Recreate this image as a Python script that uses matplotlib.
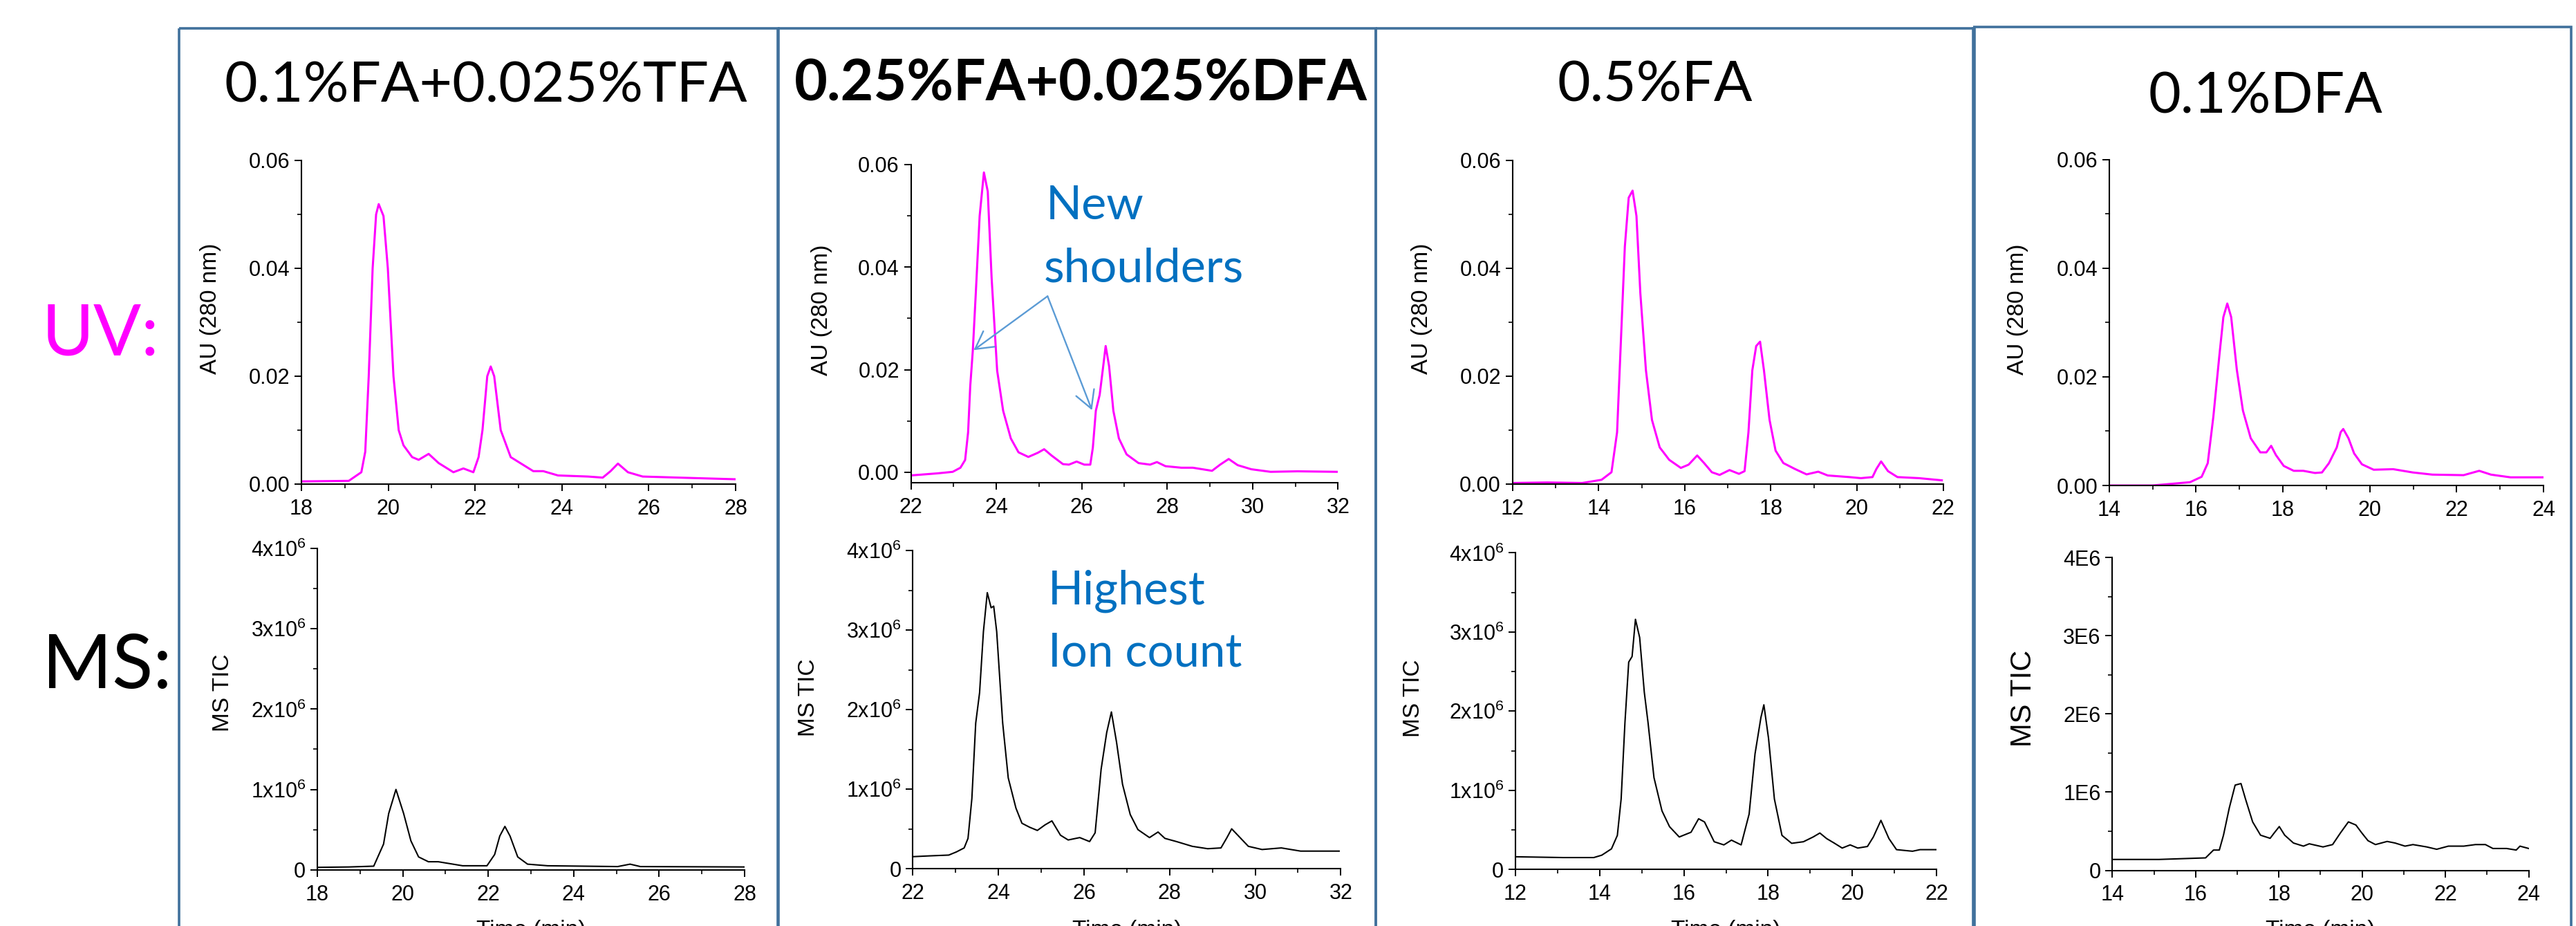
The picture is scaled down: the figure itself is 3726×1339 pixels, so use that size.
import matplotlib
matplotlib.use("Agg")
import numpy as np
import matplotlib.pyplot as plt
from matplotlib.transforms import Affine2D
from matplotlib.patches import Rectangle
from matplotlib.ticker import MultipleLocator, FuncFormatter

# ------------------------------------------------------------------ data
titles = ["0.1%FA+0.025%TFA", "0.25%FA+0.025%DFA", "0.5%FA", "0.1%DFA"]
title_bold = [False, True, False, False]
x_ranges = [(18, 28), (22, 32), (12, 22), (14, 24)]
uv_ylims = [(0, 0.06), (-0.002, 0.06), (0, 0.06), (0, 0.06)]
ms_ylim = (0, 4)          # millions of counts
uv_ticks = [0.00, 0.02, 0.04, 0.06]
ms_ticks = [0, 1, 2, 3, 4]
ms_tick_style = ["x10", "x10", "x10", "E"]

# UV traces (time in min, AU at 280 nm)
uv1_t = [18.02, 19.09, 19.38, 19.47, 19.55, 19.64, 19.72, 19.78, 19.89, 19.99, 20.12, 20.24,
         20.35, 20.55, 20.70, 20.93, 21.16, 21.50, 21.73, 21.96, 22.08, 22.17, 22.28, 22.36,
         22.44, 22.59, 22.82, 23.34, 23.57, 23.91, 24.60, 24.94, 25.12, 25.29, 25.52, 25.86,
         27.12, 27.98]
uv1_y = [0.0005, 0.0006, 0.0022, 0.0060, 0.0200, 0.0400, 0.0500, 0.0519, 0.0497, 0.0400, 0.0200, 0.0100,
         0.0072, 0.0050, 0.0045, 0.0056, 0.0039, 0.0022, 0.0029, 0.0022, 0.0050, 0.0100, 0.0200, 0.0218,
         0.0200, 0.0100, 0.0050, 0.0024, 0.0024, 0.0016, 0.0014, 0.0012, 0.0024, 0.0038, 0.0022, 0.0014,
         0.0011, 0.0009]

uv2_t = [22.00, 22.62, 22.98, 23.16, 23.27, 23.34, 23.39, 23.45, 23.52, 23.61, 23.71, 23.80,
         23.89, 24.02, 24.16, 24.34, 24.52, 24.75, 24.97, 25.12, 25.29, 25.56, 25.70, 25.88,
         26.06, 26.20, 26.26, 26.33, 26.42, 26.49, 26.56, 26.64, 26.74, 26.87, 27.05, 27.33,
         27.60, 27.76, 27.96, 28.33, 28.60, 29.05, 29.24, 29.44, 29.65, 29.97, 30.42, 31.05,
         31.98]
uv2_y = [-0.0006, -0.0002, 0.0001, 0.0009, 0.0024, 0.0078, 0.0168, 0.0237, 0.0349, 0.0499, 0.0584, 0.0547,
         0.0379, 0.0198, 0.0120, 0.0066, 0.0039, 0.0030, 0.0038, 0.0045, 0.0033, 0.0016, 0.0015, 0.0021,
         0.0015, 0.0015, 0.0048, 0.0120, 0.0151, 0.0198, 0.0246, 0.0207, 0.0120, 0.0066, 0.0035, 0.0018,
         0.0015, 0.0020, 0.0012, 0.0009, 0.0009, 0.0003, 0.0015, 0.0026, 0.0014, 0.0006, 0.0001, 0.0002,
         0.0001]

uv3_t = [12.00, 12.81, 13.62, 14.07, 14.30, 14.43, 14.52, 14.61, 14.70, 14.79, 14.88, 14.97,
         15.10, 15.24, 15.42, 15.64, 15.91, 16.09, 16.29, 16.45, 16.63, 16.81, 17.04, 17.26,
         17.39, 17.48, 17.57, 17.66, 17.75, 17.84, 17.97, 18.11, 18.29, 18.56, 18.83, 19.10,
         19.32, 19.82, 20.09, 20.36, 20.45, 20.56, 20.72, 20.94, 21.44, 21.97]
uv3_y = [0.0002, 0.0003, 0.0002, 0.0008, 0.0022, 0.0096, 0.0268, 0.0440, 0.0531, 0.0544, 0.0497, 0.0354,
         0.0211, 0.0119, 0.0068, 0.0045, 0.0030, 0.0036, 0.0053, 0.0039, 0.0022, 0.0017, 0.0026, 0.0019,
         0.0024, 0.0096, 0.0211, 0.0256, 0.0264, 0.0211, 0.0119, 0.0062, 0.0039, 0.0028, 0.0018, 0.0023,
         0.0016, 0.0013, 0.0011, 0.0013, 0.0028, 0.0042, 0.0024, 0.0013, 0.0011, 0.0007]

uv4_t = [14.00, 15.00, 15.86, 16.13, 16.27, 16.40, 16.54, 16.63, 16.72, 16.81, 16.94, 17.08,
         17.26, 17.48, 17.62, 17.73, 17.84, 18.02, 18.25, 18.47, 18.74, 18.90, 19.06, 19.24,
         19.33, 19.39, 19.51, 19.64, 19.82, 20.09, 20.54, 20.99, 21.44, 22.16, 22.52, 22.79,
         23.24, 23.99]
uv4_y = [0.0000, 0.0000, 0.0006, 0.0016, 0.0041, 0.0127, 0.0241, 0.0310, 0.0335, 0.0310, 0.0213, 0.0138,
         0.0087, 0.0061, 0.0061, 0.0073, 0.0056, 0.0036, 0.0027, 0.0027, 0.0023, 0.0024, 0.0041, 0.0070,
         0.0098, 0.0104, 0.0087, 0.0059, 0.0039, 0.0029, 0.0030, 0.0024, 0.0020, 0.0019, 0.0027, 0.0020,
         0.0015, 0.0015]

# MS TIC traces (time in min, counts in millions)
ms1_t = [18.00, 18.74, 19.32, 19.55, 19.67, 19.84, 20.02, 20.19, 20.37, 20.60, 20.83, 21.06,
         21.40, 21.97, 22.15, 22.27, 22.39, 22.51, 22.69, 22.92, 23.39, 25.03, 25.32, 25.56,
         28.00]
ms1_y = [0.030, 0.035, 0.045, 0.320, 0.700, 1.000, 0.700, 0.360, 0.160, 0.100, 0.100, 0.080,
         0.050, 0.050, 0.190, 0.420, 0.540, 0.420, 0.160, 0.070, 0.050, 0.040, 0.070, 0.040,
         0.035]

ms2_t = [22.00, 22.39, 22.84, 23.02, 23.20, 23.29, 23.38, 23.47, 23.56, 23.65, 23.74, 23.83,
         23.89, 23.96, 24.10, 24.23, 24.41, 24.55, 24.73, 24.91, 25.09, 25.25, 25.45, 25.63,
         25.90, 26.13, 26.26, 26.40, 26.53, 26.64, 26.76, 26.90, 27.08, 27.26, 27.53, 27.73,
         27.89, 28.16, 28.53, 28.89, 29.20, 29.34, 29.45, 29.61, 29.84, 30.16, 30.61, 31.06,
         31.96]
ms2_y = [0.15, 0.16, 0.17, 0.21, 0.26, 0.38, 0.88, 1.83, 2.21, 2.98, 3.47, 3.28,
         3.30, 2.98, 1.83, 1.14, 0.76, 0.57, 0.52, 0.48, 0.55, 0.60, 0.42, 0.36,
         0.39, 0.34, 0.45, 1.25, 1.71, 1.97, 1.59, 1.06, 0.68, 0.49, 0.39, 0.46,
         0.38, 0.34, 0.28, 0.25, 0.26, 0.39, 0.50, 0.41, 0.28, 0.24, 0.26, 0.22,
         0.22]

ms3_t = [12.00, 13.13, 13.86, 14.05, 14.28, 14.42, 14.51, 14.60, 14.69, 14.77, 14.85, 14.95,
         15.06, 15.15, 15.29, 15.48, 15.66, 15.89, 16.17, 16.35, 16.49, 16.72, 16.95, 17.13,
         17.36, 17.55, 17.69, 17.83, 17.90, 18.01, 18.15, 18.33, 18.56, 18.84, 19.07, 19.23,
         19.39, 19.58, 19.76, 19.95, 20.13, 20.36, 20.50, 20.68, 20.87, 21.05, 21.43, 21.61,
         22.00]
ms3_y = [0.16, 0.15, 0.15, 0.18, 0.26, 0.43, 0.89, 1.85, 2.62, 2.69, 3.16, 2.93,
         2.24, 1.85, 1.16, 0.74, 0.54, 0.41, 0.47, 0.64, 0.60, 0.35, 0.31, 0.37,
         0.31, 0.70, 1.46, 1.92, 2.08, 1.66, 0.89, 0.43, 0.33, 0.35, 0.41, 0.46,
         0.39, 0.33, 0.27, 0.31, 0.27, 0.29, 0.41, 0.62, 0.39, 0.25, 0.23, 0.25,
         0.25]

ms4_t = [14.00, 15.12, 16.24, 16.43, 16.57, 16.67, 16.81, 16.95, 17.09, 17.20, 17.37, 17.56,
         17.79, 17.89, 18.01, 18.14, 18.35, 18.59, 18.73, 19.06, 19.29, 19.48, 19.67, 19.85,
         19.99, 20.14, 20.32, 20.60, 20.79, 21.03, 21.22, 21.55, 21.79, 22.07, 22.44, 22.72,
         22.96, 23.14, 23.47, 23.70, 23.79, 24.00]
ms4_y = [0.14, 0.14, 0.16, 0.26, 0.26, 0.45, 0.80, 1.09, 1.11, 0.91, 0.62, 0.45,
         0.41, 0.48, 0.56, 0.45, 0.35, 0.31, 0.34, 0.30, 0.33, 0.48, 0.62, 0.58,
         0.48, 0.38, 0.33, 0.37, 0.35, 0.31, 0.33, 0.30, 0.27, 0.31, 0.31, 0.33,
         0.33, 0.28, 0.28, 0.26, 0.31, 0.28]

uv_t = [uv1_t, uv2_t, uv3_t, uv4_t]
uv_y = [uv1_y, uv2_y, uv3_y, uv4_y]
ms_t = [ms1_t, ms2_t, ms3_t, ms4_t]
ms_y = [ms1_y, ms2_y, ms3_y, ms4_y]

# annotation in panel 2 (UV axes data coordinates)
shoulder_from = (25.20, 0.0343)
shoulder_tips = [(23.47, 0.0238), (26.24, 0.0121)]
uv_note = ["New", "shoulders"]
ms_note = ["Highest", "Ion count"]

# ------------------------------------------------------------------ layout (pixels, y from top)
W, H, DPI = 3726, 1339, 100
uv_boxes = [(436, 1064, 232, 700), (1317.5, 1935.4, 237.5, 697.85),
            (2187.6, 2810.6, 232, 700), (3050.7, 3679, 230.8, 702)]
ms_boxes = [(459, 1077, 793, 1257.7), (1320.3, 1939.4, 796, 1256),
            (2192, 2801, 799.4, 1257.2), (3055.3, 3657.6, 806, 1258.6)]
frames = [(259, 41, 1126), (1124.5, 41, 1990), (1990, 41, 2855.5), (2854, 39.3, 3718.6)]
title_pos = [(702.5, 147, 757), (1563.5, 145, 831), (2394, 146.4, 283), (3277.5, 163, 339)]
uv_lab_pos = [(304.5, 446), (1188.5, 448.5), (2056, 446), (2919, 447)]
ms_lab_pos = [(322.5, 1002), (1170, 1009), (2044.5, 1010), (2927.5, 1010)]
ms_lab_size = [24, 24, 24, 30]

MAGENTA = "#FF00FF"
FRAME = "#41719C"
NOTE = "#0070C0"
ARROW = "#5B9BD5"

plt.rcParams["font.family"] = ["Liberation Sans", "DejaVu Sans"]
plt.rcParams["mathtext.default"] = "regular"
plt.rcParams["axes.linewidth"] = 1.5

fig = plt.figure(figsize=(W / DPI, H / DPI), dpi=DPI)
px = Affine2D().scale(1 / W, -1 / H).translate(0, 1) + fig.transFigure
renderer = fig.canvas.get_renderer()


def axes_at(b):
    x0, x1, yt, yb = b
    return fig.add_axes([x0 / W, 1 - yb / H, (x1 - x0) / W, (yb - yt) / H])


def fit_text(x, y, s, width, **kw):
    t = fig.text(x, y, s, transform=px, fontsize=50, **kw)
    bb = t.get_window_extent(renderer=renderer)
    t.set_fontsize(50 * width / bb.width)
    return t


def style(ax):
    for sp in ("top", "right"):
        ax.spines[sp].set_visible(False)
    ax.tick_params(which="major", direction="out", length=7, width=1.4, labelsize=22, pad=5)
    ax.tick_params(which="minor", direction="out", length=4, width=1.2)
    ax.tick_params(axis="x", which="major", pad=8)
    ax.set_facecolor("none")
    ax.xaxis.set_major_locator(MultipleLocator(2))
    ax.xaxis.set_minor_locator(MultipleLocator(1))


def ms_fmt(kind):
    def f(v, pos):
        n = int(round(v))
        if n == 0:
            return "0"
        return "%dE6" % n if kind == "E" else r"$%dx10^{6}$" % n
    return FuncFormatter(f)


# panel frames
for x0, yt, x1 in frames:
    fig.add_artist(Rectangle((x0, yt), x1 - x0, 1400, transform=px, fill=False,
                             edgecolor=FRAME, linewidth=2.6, clip_on=False))

for i in range(4):
    # UV
    ax = axes_at(uv_boxes[i])
    ax.plot(uv_t[i], uv_y[i], color=MAGENTA, lw=2.2)
    ax.set_xlim(*x_ranges[i])
    ax.set_ylim(*uv_ylims[i])
    style(ax)
    ax.set_yticks(uv_ticks)
    ax.yaxis.set_minor_locator(MultipleLocator(0.01))
    ax.yaxis.set_major_formatter(FuncFormatter(lambda v, p: "%.2f" % v))
    fig.text(*uv_lab_pos[i], "AU (280 nm)", transform=px, rotation=90, ha="center",
             va="center", fontsize=24)
    if i == 1:
        for tip in shoulder_tips:
            ax.annotate("", xy=tip, xytext=shoulder_from, annotation_clip=False,
                        arrowprops=dict(arrowstyle="->,head_length=0.9,head_width=0.5",
                                        color=ARROW, lw=1.7, shrinkA=0, shrinkB=0,
                                        mutation_scale=20))

    # MS
    ax2 = axes_at(ms_boxes[i])
    ax2.plot(ms_t[i], ms_y[i], color="black", lw=1.5)
    ax2.set_xlim(*x_ranges[i])
    ax2.set_ylim(*ms_ylim)
    style(ax2)
    ax2.set_yticks(ms_ticks)
    ax2.yaxis.set_minor_locator(MultipleLocator(0.5))
    ax2.yaxis.set_major_formatter(ms_fmt(ms_tick_style[i]))
    fig.text(*ms_lab_pos[i], "MS TIC", transform=px, rotation=90, ha="center",
             va="center", fontsize=ms_lab_size[i])
    fig.text((ms_boxes[i][0] + ms_boxes[i][1]) / 2, 1354, "Time (min)", transform=px,
             ha="center", va="baseline", fontsize=24)

    # title
    cx, by, w = title_pos[i]
    fit_text(cx, by, titles[i], w, ha="center", va="baseline", family=["Lato", "DejaVu Sans"],
             fontweight="bold" if title_bold[i] else "normal")

# row labels
fit_text(61, 513, "UV:", 170, ha="left", va="baseline", family=["Lato", "DejaVu Sans"],
         color=MAGENTA)
fit_text(61, 995, "MS:", 188, ha="left", va="baseline", family=["Lato", "DejaVu Sans"],
         color="black")

# notes
t = fit_text(1510, 407, uv_note[1], 289, ha="left", va="baseline",
             family=["Lato", "DejaVu Sans"], color=NOTE)
fig.text(1513, 317, uv_note[0], transform=px, ha="left", va="baseline",
         family=["Lato", "DejaVu Sans"], color=NOTE, fontsize=t.get_fontsize())
t = fit_text(1515.6, 963, ms_note[1], 280, ha="left", va="baseline",
             family=["Lato", "DejaVu Sans"], color=NOTE)
fig.text(1515.6, 874, ms_note[0], transform=px, ha="left", va="baseline",
         family=["Lato", "DejaVu Sans"], color=NOTE, fontsize=t.get_fontsize())

fig.savefig("out.png", dpi=DPI, facecolor="white")
